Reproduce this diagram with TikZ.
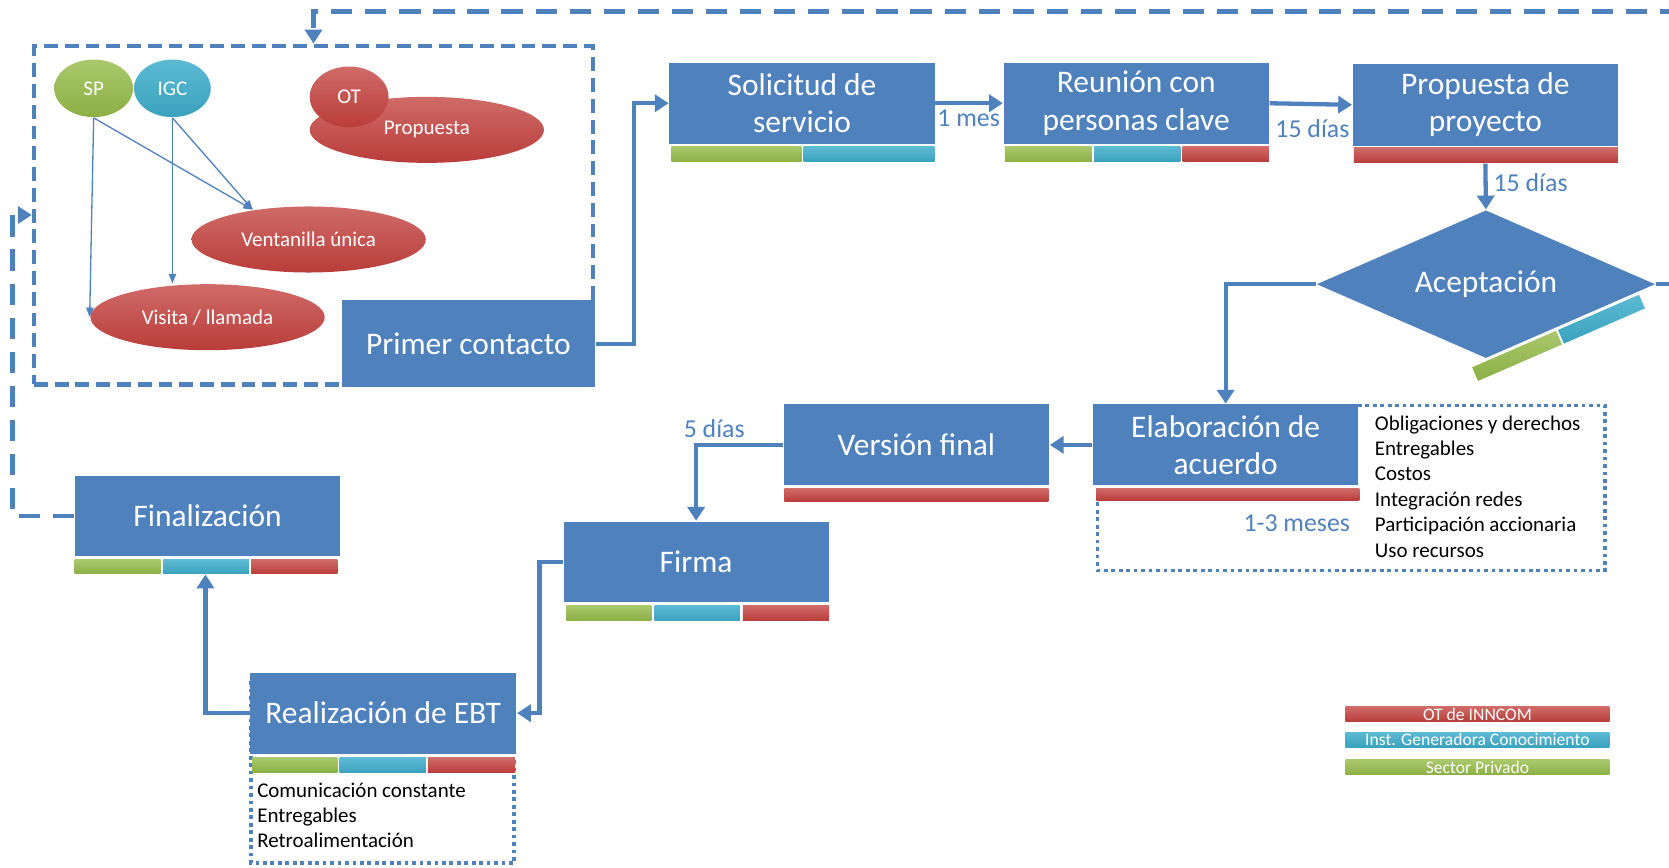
\documentclass[tikz,border=0pt]{standalone}
\usepackage{fontspec}
\setmainfont{Carlito}
\usetikzlibrary{arrows.meta,shapes.geometric}
\definecolor{bl}{HTML}{4F81BD}
\definecolor{rdt}{HTML}{CF6B68}
\definecolor{rdb}{HTML}{B93D3A}
\definecolor{grt}{HTML}{A9C86C}
\definecolor{grb}{HTML}{8CAF45}
\definecolor{tlt}{HTML}{5DBAD3}
\definecolor{tlb}{HTML}{3AA2BD}
\newcommand\mybar[5]{\shade[top color=#1t, bottom color=#1b] (#2,#3) rectangle (#4,#5);}
\begin{document}
\begin{tikzpicture}[x=0.01cm,y=-0.01cm,
  box/.style={fill=bl, text=white, inner sep=0pt, align=center,
    font=\fontsize{8.4}{10}\selectfont, minimum width=2.49cm, minimum height=0.76cm},
  flow/.style={draw=bl, line width=1.15pt, -{Triangle[length=0.13cm,width=0.16cm]}},
  thinarrow/.style={draw=bl, line width=0.35pt, -{Triangle[length=0.09cm,width=0.07cm]}},
  dashflow/.style={flow, dash pattern=on 0.2cm off 0.12cm},
  grpbox/.style={draw=bl, line width=1.15pt, dash pattern=on 0.13cm off 0.065cm, inner sep=0pt},
  dotbox/.style={draw=bl, line width=1pt, dash pattern=on 0.035cm off 0.035cm},
  ell/.style={ellipse, inner sep=0pt, text=white, font=\fontsize{5.6}{6.6}\selectfont},
  redell/.style={ell, top color=rdt, bottom color=rdb},
  lbl/.style={text=bl, font=\fontsize{6.9}{8}\selectfont, inner sep=0pt},
  lst/.style={font=\fontsize{5.6}{6.8}\selectfont, inner sep=0pt, align=left, anchor=west},
  legend/.style={text=white, font=\fontsize{4.7}{5.5}\selectfont, inner sep=0pt,
    minimum width=2.48cm, minimum height=0.14cm}
]
\useasboundingbox (0,0) rectangle (1568,815);

% group box
\node[grpbox, minimum width=5.25cm, minimum height=3.18cm] (grp) at (294.5,202) {};

% ellipses
\node[redell, minimum width=2.2cm, minimum height=0.62cm] (propell) at (401,122) {\raisebox{-0.03cm}{Propuesta}};
\node[redell, minimum width=0.74cm, minimum height=0.57cm] (ot) at (328,91) {OT};
\node[ell, top color=grt, bottom color=grb, minimum width=0.74cm, minimum height=0.54cm] (sp) at (88,83) {SP};
\node[ell, top color=tlt, bottom color=tlb, minimum width=0.72cm, minimum height=0.54cm] (igc) at (162,83) {IGC};
\node[redell, minimum width=2.2cm, minimum height=0.62cm] (ven) at (290,225) {Ventanilla única};
\node[redell, minimum width=2.2cm, minimum height=0.62cm] (vis) at (195,298) {Visita / llamada};

\draw[thinarrow] (sp.south) -- (vis.west);
\draw[thinarrow] (sp.south) -- (ven.152);
\draw[thinarrow] (igc.south) -- (igc.south |- vis.north);
\draw[thinarrow] (igc.south) -- (ven.152);

% dotted box behind Elaboración
\draw[dotbox] (1031,381) rectangle (1508,536);

% process boxes
\node[box, minimum width=2.38cm, minimum height=0.82cm] (pc) at (440,323) {Primer contacto};
\node[box] (sol) at (753.5,97) {Solicitud de\\servicio};
\node[box] (reu) at (1067.5,97) {Reunión con\\personas clave};
\node[box, minimum height=0.77cm] (prop) at (1395.5,98.5) {Propuesta de\\proyecto};
\node[diamond, shape aspect=2.3, fill=bl, text=white, inner sep=0pt, font=\fontsize{8.4}{10}\selectfont,
  minimum width=3.18cm, minimum height=1.39cm] (acep) at (1396,267) {Aceptación};
\node[box] (elab) at (1151.5,418) {Elaboración de\\acuerdo};
\node[box] (vers) at (861,418) {Versión final};
\node[box] (firma) at (654,528) {Firma};
\node[box, minimum width=2.5cm] (real) at (360,670) {Realización de EBT};
\node[box, minimum height=0.75cm] (fin) at (195,484.5) {Finalización};

\draw[dotbox] (236,640) -- (236,811) -- (483,811) -- (483,712);

% bars
\mybar{gr}{631}{138}{753}{152}
\mybar{tl}{755}{138}{878}{152}
\mybar{gr}{944}{138}{1026}{152}
\mybar{tl}{1028}{138}{1109}{152}
\mybar{rd}{1111}{138}{1192}{152}
\mybar{rd}{1272}{139}{1520}{153}
\mybar{rd}{1030}{459}{1277}{470}
\mybar{rd}{737}{459}{985}{471}
\mybar{gr}{532}{569}{612}{583}
\mybar{tl}{615}{569}{695}{583}
\mybar{rd}{698}{569}{779}{583}
\mybar{gr}{237}{712}{317}{726}
\mybar{tl}{319}{712}{400}{726}
\mybar{rd}{402}{712}{484}{726}
\mybar{gr}{70}{526}{151}{539}
\mybar{tl}{153}{526}{234}{539}
\mybar{rd}{236}{526}{317}{539}
\begin{scope}[shift={(acep.south)}, rotate=23.5]
  \shade[top color=grt, bottom color=grb] (-15,2) rectangle (71,16);
  \shade[top color=tlt, bottom color=tlb] (73,2) rectangle (156,16);
\end{scope}

% connectors
\draw[flow] (pc.east) -- ++(36,0) |- (sol.west);
\draw[flow] (sol.east) -- (reu.west);
\draw[flow] (reu.east) -- (prop.west);
\draw[flow] ([yshift=-0.16cm]prop.south) -- (acep.north);
\draw[flow] (acep.west) -| (elab.north);
\draw[flow] (elab.west) -- (vers.east);
\draw[flow] (vers.west) -| (firma.north);
\draw[flow] (firma.west) -- ++(-22,0) |- (real.east);
\draw[flow] (real.west) -| ([xshift=-0.02cm,yshift=-0.17cm]fin.south);
\draw[dashflow] (fin.west) -- ++(-58,0) |- (grp.west);
\draw[dashflow] (acep.east) -- ++(60,0) |- ([yshift=0.3cm]grp.north) -- (grp.north);

% labels
\node[lbl] (l1) at (910,111) {1 mes};
\node[lbl] (l2) at (1233,121) {15 días};
\node[lbl] (l3) at (1438,172) {15 días};
\node[lbl] (l4) at (671,403) {5 días};
\node[lbl, anchor=east] (l5) at (1269,492) {1-3 meses};

% lists
\node[lst] (lst1) at (1291,457) {Obligaciones y derechos\\Entregables\\Costos\\Integración redes\\Participación accionaria\\Uso recursos};
\node[lst] (lst2) at (241,766) {Comunicación constante\\Entregables\\Retroalimentación};

% legend
\node[legend, top color=rdt, bottom color=rdb] (lg1) at (1388,671) {OT de INNCOM};
\node[legend, top color=tlt, bottom color=tlb] (lg2) at (1388,695) {Inst. Generadora Conocimiento};
\node[legend, top color=grt, bottom color=grb] (lg3) at (1388,721) {Sector Privado};
\end{tikzpicture}
\end{document}
